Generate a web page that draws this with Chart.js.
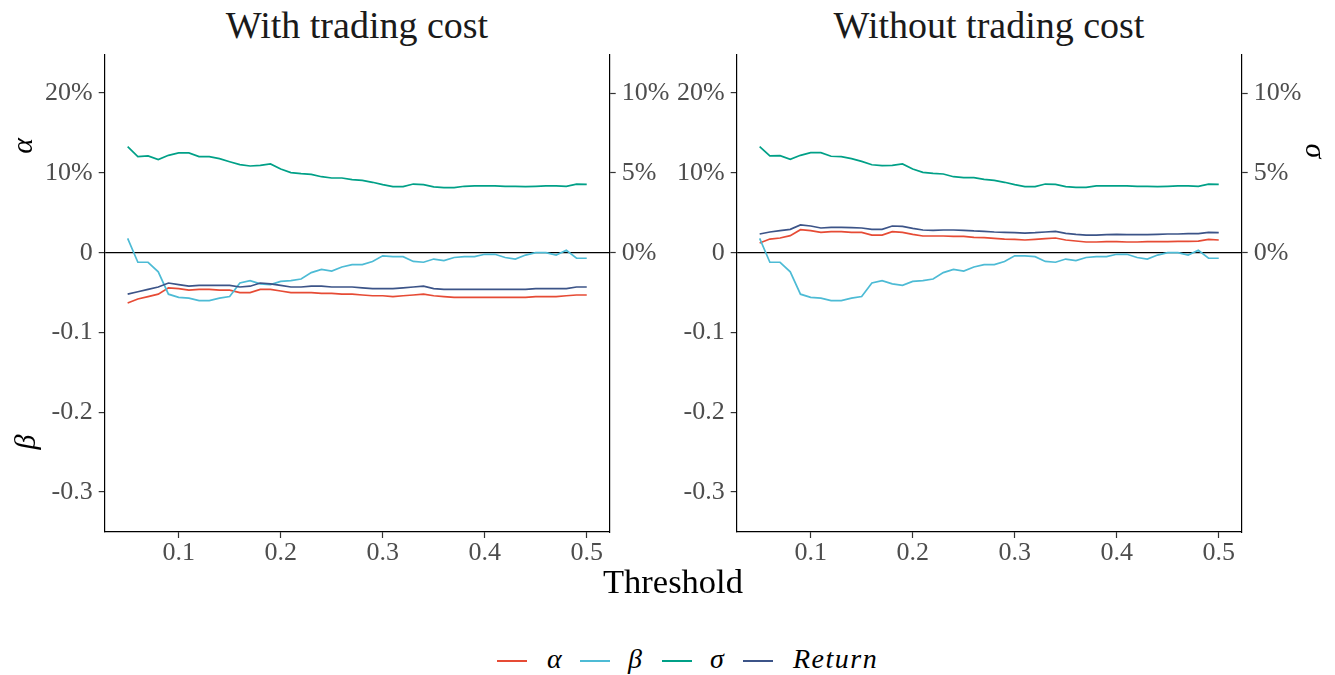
<!DOCTYPE html>
<html>
<head>
<meta charset="utf-8">
<script src="https://cdn.jsdelivr.net/npm/chart.js@4.4.1/dist/chart.umd.min.js"></script>
<style>
  html, body { margin:0; padding:0; background:#fff; }
  body { width:1335px; height:675px; position:relative; overflow:hidden; font-family:"Liberation Serif","DejaVu Serif",serif; }
  canvas { position:absolute; top:0; }
  .title { position:absolute; top:6px; height:38px; line-height:38px; font-size:38px; text-align:center; color:#1a1a1a; white-space:nowrap; }
  .xlab { position:absolute; top:564px; left:473px; width:400px; text-align:center; font-size:34.5px; line-height:34.5px; color:#000; }
  .lg-line { position:absolute; top:660px; width:30px; height:2px; }
  .lg-text { position:absolute; top:645px; font-family:"Liberation Serif",serif; font-size:28px; line-height:28px; font-style:italic; color:#000; white-space:nowrap; }
</style>
</head>
<body>
<div class="title" style="left:107px;width:500px;">With trading cost</div>
<div class="title" style="left:739px;width:500px;">Without trading cost</div>
<canvas id="c1" width="700" height="600" style="left:0px;width:700px;height:600px;"></canvas>
<canvas id="c2" width="695" height="600" style="left:640px;width:695px;height:600px;"></canvas>
<div class="xlab">Threshold</div>
<div id="legend"></div>
<script>
// ---------- data ----------
const thresholds = [0.05,0.06,0.07,0.08,0.09,0.10,0.11,0.12,0.13,0.14,0.15,0.16,0.17,0.18,0.19,0.20,0.21,0.22,0.23,0.24,0.25,0.26,0.27,0.28,0.29,0.30,0.31,0.32,0.33,0.34,0.35,0.36,0.37,0.38,0.39,0.40,0.41,0.42,0.43,0.44,0.45,0.46,0.47,0.48,0.49,0.50];

const alphaWith = [-0.063,-0.058,-0.055,-0.052,-0.044,-0.045,-0.047,-0.046,-0.046,-0.047,-0.047,-0.050,-0.050,-0.046,-0.046,-0.048,-0.050,-0.050,-0.050,-0.051,-0.051,-0.052,-0.052,-0.053,-0.054,-0.054,-0.055,-0.054,-0.053,-0.052,-0.054,-0.055,-0.056,-0.056,-0.056,-0.056,-0.056,-0.056,-0.056,-0.056,-0.055,-0.055,-0.055,-0.054,-0.053,-0.053];
const betaWith = [0.018,-0.012,-0.012,-0.024,-0.052,-0.056,-0.057,-0.060,-0.060,-0.057,-0.055,-0.038,-0.035,-0.039,-0.040,-0.036,-0.035,-0.033,-0.025,-0.021,-0.023,-0.018,-0.015,-0.015,-0.011,-0.004,-0.005,-0.005,-0.011,-0.012,-0.008,-0.010,-0.006,-0.005,-0.005,-0.002,-0.002,-0.006,-0.008,-0.003,0.000,0.000,-0.003,0.003,-0.007,-0.007];
const sigmaWith = [0.0664,0.0602,0.0606,0.0583,0.0610,0.0625,0.0625,0.0602,0.0602,0.0589,0.0570,0.0552,0.0543,0.0547,0.0556,0.0524,0.0502,0.0495,0.0491,0.0476,0.0468,0.0468,0.0458,0.0453,0.0441,0.0426,0.0414,0.0414,0.0430,0.0426,0.0412,0.0408,0.0408,0.0416,0.0418,0.0418,0.0418,0.0416,0.0416,0.0414,0.0416,0.0418,0.0418,0.0416,0.0430,0.0428];
const returnWith = [-0.052,-0.049,-0.046,-0.043,-0.038,-0.040,-0.042,-0.041,-0.041,-0.041,-0.041,-0.043,-0.042,-0.038,-0.039,-0.041,-0.043,-0.043,-0.042,-0.042,-0.043,-0.043,-0.043,-0.044,-0.045,-0.045,-0.045,-0.044,-0.043,-0.042,-0.045,-0.046,-0.046,-0.046,-0.046,-0.046,-0.046,-0.046,-0.046,-0.046,-0.045,-0.045,-0.045,-0.045,-0.043,-0.043];

const alphaWithout = [0.0121,0.0171,0.0184,0.0213,0.0288,0.0276,0.0255,0.0263,0.0263,0.0255,0.0255,0.0221,0.0221,0.0263,0.0255,0.0230,0.0209,0.0209,0.0209,0.0205,0.0205,0.0192,0.0188,0.0180,0.0171,0.0167,0.0159,0.0167,0.0175,0.0184,0.0159,0.0146,0.0134,0.0134,0.0138,0.0138,0.0134,0.0134,0.0138,0.0138,0.0138,0.0142,0.0142,0.0146,0.0167,0.0159];
const betaWithout = [0.018,-0.012,-0.012,-0.024,-0.052,-0.056,-0.057,-0.060,-0.060,-0.057,-0.055,-0.038,-0.035,-0.039,-0.041,-0.036,-0.035,-0.033,-0.025,-0.021,-0.023,-0.018,-0.015,-0.015,-0.011,-0.004,-0.004,-0.005,-0.011,-0.012,-0.008,-0.010,-0.006,-0.005,-0.005,-0.002,-0.002,-0.006,-0.008,-0.003,0.000,0.000,-0.003,0.003,-0.007,-0.007];
const sigmaWithout = [0.0664,0.0606,0.0608,0.0585,0.0610,0.0627,0.0627,0.0604,0.0602,0.0589,0.0572,0.0551,0.0545,0.0547,0.0556,0.0524,0.0503,0.0497,0.0493,0.0476,0.0470,0.0470,0.0459,0.0453,0.0441,0.0426,0.0414,0.0414,0.0430,0.0428,0.0414,0.0409,0.0409,0.0418,0.0418,0.0418,0.0418,0.0416,0.0416,0.0414,0.0416,0.0418,0.0418,0.0416,0.0430,0.0428];
const returnWithout = [0.0234,0.0259,0.0276,0.0292,0.0347,0.0334,0.0309,0.0317,0.0317,0.0313,0.0309,0.0292,0.0292,0.0334,0.0330,0.0305,0.0284,0.0280,0.0284,0.0284,0.0280,0.0272,0.0267,0.0259,0.0255,0.0251,0.0246,0.0251,0.0259,0.0267,0.0242,0.0230,0.0221,0.0221,0.0226,0.0230,0.0226,0.0226,0.0226,0.0230,0.0234,0.0234,0.0238,0.0238,0.0255,0.0251];

const xTickValues = [0.1,0.2,0.3,0.4,0.5];
const xTickLabels = ['0.1','0.2','0.3','0.4','0.5'];
const yTickValues = [-0.3,-0.2,-0.1,0,0.1,0.2];
const yTickLabels = ['-0.3','-0.2','-0.1','0','10%','20%'];
const sigmaTickValues = [0,0.05,0.1];
const sigmaTickLabels = ['0%','5%','10%'];

const seriesNames = ['α','β','σ','Return'];
const seriesColors = ['#E64B35','#4DBBD5','#00A087','#3C5488'];

// ---------- styling ----------
const FONT = '"Liberation Serif","DejaVu Serif",serif';
const X_MIN = 0.0275, X_MAX = 0.5225;
const Y_MIN = -0.35, Y_MAX = 0.2477;
const tickFont = { family: FONT, size: 26 };
const tickColor = '#4D4D4D';

const axisLabelPlugin = {
  id: 'axisLabels',
  afterDraw(chart, args, opts) {
    const ctx = chart.ctx;
    (opts.items || []).forEach(it => {
      ctx.save();
      ctx.translate(it.x, it.y);
      ctx.rotate(it.rot);
      ctx.font = 'italic 30px ' + FONT;
      ctx.fillStyle = '#000';
      ctx.textAlign = 'center';
      ctx.textBaseline = 'middle';
      ctx.fillText(it.text, 0, 0);
      ctx.restore();
    });
  }
};

function makeChart(id, leftW, rightW, a, b, s, r, labels) {
  const mk = (vals) => thresholds.map((t, i) => ({ x: t, y: vals[i] }));
  const ds = (i, vals, axis) => ({
    label: seriesNames[i], data: mk(vals), borderColor: seriesColors[i],
    backgroundColor: seriesColors[i], borderWidth: 1.7, pointRadius: 0,
    yAxisID: axis, order: 3 - i, tension: 0, fill: false
  });
  return new Chart(document.getElementById(id), {
    type: 'line',
    data: { datasets: [ds(0, a, 'y'), ds(1, b, 'y'), ds(2, s, 'y2'), ds(3, r, 'y')] },
    plugins: [axisLabelPlugin],
    options: {
      responsive: false, animation: false, devicePixelRatio: 1,
      layout: { padding: { top: 55, left: 0, right: 0, bottom: 0 } },
      plugins: { legend: { display: false }, tooltip: { enabled: false }, title: { display: false },
        axisLabels: { items: labels } },
      scales: {
        x: {
          type: 'linear', min: X_MIN, max: X_MAX,
          afterBuildTicks: sc => { sc.ticks = xTickValues.map(v => ({ value: v })); },
          afterFit: sc => { sc.height = 68; },
          ticks: { font: tickFont, color: tickColor, padding: 0, maxRotation: 0,
            callback: v => xTickLabels[xTickValues.indexOf(v)] },
          grid: { drawOnChartArea: false, drawTicks: true, tickLength: 6, tickColor: '#333', tickWidth: 1.2 },
          border: { display: true, color: '#000', width: 1.2 }
        },
        y: {
          type: 'linear', position: 'left', min: Y_MIN, max: Y_MAX,
          afterBuildTicks: sc => { sc.ticks = yTickValues.map(v => ({ value: v })); },
          afterFit: sc => { sc.width = leftW; },
          ticks: { font: tickFont, color: tickColor, padding: 6,
            callback: v => yTickLabels[yTickValues.indexOf(v)] },
          grid: { drawOnChartArea: true, drawTicks: true, tickLength: 6, tickColor: '#333', tickWidth: 1.2,
            color: c => (c.tick && c.tick.value === 0) ? '#000' : 'rgba(0,0,0,0)', lineWidth: 1.2 },
          border: { display: true, color: '#000', width: 1.2 }
        },
        y2: {
          type: 'linear', position: 'right', min: Y_MIN / 2, max: Y_MAX / 2,
          afterBuildTicks: sc => { sc.ticks = sigmaTickValues.map(v => ({ value: v })); },
          afterFit: sc => { sc.width = rightW; },
          ticks: { font: tickFont, color: tickColor, padding: 6,
            callback: v => sigmaTickLabels[sigmaTickValues.indexOf(v)] },
          grid: { drawOnChartArea: false, drawTicks: true, tickLength: 6, tickColor: '#333', tickWidth: 1.2 },
          border: { display: true, color: '#000', width: 1.2 }
        }
      }
    }
  });
}

makeChart('c1', 104.7, 90.3, alphaWith, betaWith, sigmaWith, returnWith, [
  { text: 'α', x: 24, y: 146, rot: -Math.PI / 2 },
  { text: 'β', x: 27, y: 442, rot: -Math.PI / 2 }
]);
makeChart('c2', 96.7, 93.3, alphaWithout, betaWithout, sigmaWithout, returnWithout, [
  { text: 'σ', x: 674, y: 151, rot: Math.PI / 2 }
]);

// ---------- legend ----------
const legendPos = [
  { line: 497, text: 547 },
  { line: 580, text: 628 },
  { line: 662, text: 710 },
  { line: 743, text: 793 }
];
const lg = document.getElementById('legend');
seriesNames.forEach((name, i) => {
  const l = document.createElement('div');
  l.className = 'lg-line';
  l.style.left = legendPos[i].line + 'px';
  l.style.background = seriesColors[i];
  lg.appendChild(l);
  const t = document.createElement('div');
  t.className = 'lg-text';
  t.style.left = legendPos[i].text + 'px';
  if (name === 'Return') t.style.letterSpacing = '1.5px';
  t.textContent = name;
  lg.appendChild(t);
});
</script>
</body>
</html>
